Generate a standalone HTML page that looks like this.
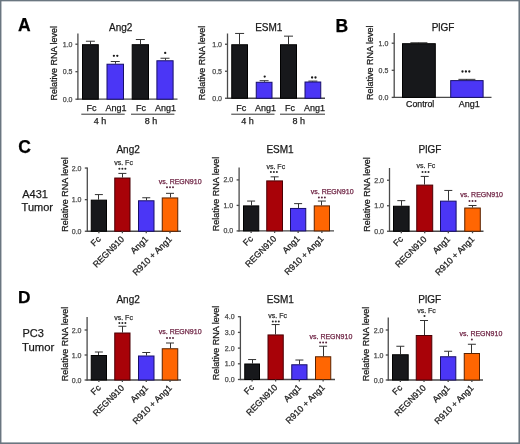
<!DOCTYPE html>
<html><head><meta charset="utf-8"><style>
html,body{margin:0;padding:0;background:#fff;}
#fig{position:relative;width:520px;height:444px;overflow:hidden;background:#fff;}
svg{position:absolute;left:0;top:0;filter:blur(0.35px);}
.bd{position:absolute;background:#6a7680;}
text{font-family:"Liberation Sans", sans-serif;stroke:currentColor;stroke-width:0.25px;}
</style></head><body>
<div id="fig">
<svg width="520" height="444" viewBox="0 0 520 444">
<rect x="0" y="0" width="520" height="444" fill="#fff"/>
<line x1="77.90" y1="33.50" x2="77.90" y2="99.70" stroke="#4a4a4a" stroke-width="1.3"/>
<line x1="77.40" y1="99.20" x2="177.50" y2="99.20" stroke="#4a4a4a" stroke-width="1.3"/>
<line x1="75.40" y1="99.20" x2="77.90" y2="99.20" stroke="#4a4a4a" stroke-width="1.3"/>
<text x="72.50" y="101.70" font-size="7" text-anchor="end" fill="#4a4a4a" color="#4a4a4a" font-weight="normal" >0.0</text>
<line x1="75.40" y1="71.70" x2="77.90" y2="71.70" stroke="#4a4a4a" stroke-width="1.3"/>
<text x="72.50" y="74.20" font-size="7" text-anchor="end" fill="#4a4a4a" color="#4a4a4a" font-weight="normal" >0.5</text>
<line x1="75.40" y1="44.20" x2="77.90" y2="44.20" stroke="#4a4a4a" stroke-width="1.3"/>
<text x="72.50" y="46.70" font-size="7" text-anchor="end" fill="#4a4a4a" color="#4a4a4a" font-weight="normal" >1.0</text>
<text x="0" y="0" font-size="9" text-anchor="middle" fill="#1a1a1a" color="#1a1a1a" transform="translate(57.40,63.30) rotate(-90)">Relative RNA level</text>
<text x="120.75" y="30.80" font-size="10" text-anchor="middle" fill="#1a1a1a" color="#1a1a1a" font-weight="normal" >Ang2</text>
<line x1="90.50" y1="44.20" x2="90.50" y2="41.23" stroke="#333" stroke-width="1.0"/>
<line x1="85.90" y1="41.23" x2="94.90" y2="41.23" stroke="#333" stroke-width="1.0"/>
<rect x="82.50" y="44.70" width="15.80" height="54.50" fill="#17181b" stroke="#000000" stroke-width="1"/>
<line x1="115.50" y1="63.73" x2="115.50" y2="61.52" stroke="#333" stroke-width="1.0"/>
<line x1="110.75" y1="61.52" x2="119.75" y2="61.52" stroke="#333" stroke-width="1.0"/>
<rect x="107.00" y="64.22" width="16.50" height="34.98" fill="#4b36f6" stroke="#180f6a" stroke-width="1"/>
<line x1="140.50" y1="44.20" x2="140.50" y2="39.53" stroke="#333" stroke-width="1.0"/>
<line x1="135.85" y1="39.53" x2="144.85" y2="39.53" stroke="#333" stroke-width="1.0"/>
<rect x="132.20" y="44.70" width="16.30" height="54.50" fill="#17181b" stroke="#000000" stroke-width="1"/>
<line x1="165.50" y1="60.26" x2="165.50" y2="58.23" stroke="#333" stroke-width="1.0"/>
<line x1="160.50" y1="58.23" x2="169.50" y2="58.23" stroke="#333" stroke-width="1.0"/>
<rect x="156.90" y="60.76" width="16.20" height="38.44" fill="#4b36f6" stroke="#180f6a" stroke-width="1"/>
<circle cx="113.90" cy="55.80" r="1.15" fill="#1a1a1a"/>
<circle cx="117.30" cy="55.80" r="1.15" fill="#1a1a1a"/>
<circle cx="165.20" cy="52.90" r="1.15" fill="#1a1a1a"/>
<line x1="227.50" y1="33.50" x2="227.50" y2="98.75" stroke="#4a4a4a" stroke-width="1.3"/>
<line x1="227.00" y1="98.25" x2="325.00" y2="98.25" stroke="#4a4a4a" stroke-width="1.3"/>
<line x1="225.00" y1="98.25" x2="227.50" y2="98.25" stroke="#4a4a4a" stroke-width="1.3"/>
<text x="222.00" y="100.75" font-size="7" text-anchor="end" fill="#4a4a4a" color="#4a4a4a" font-weight="normal" >0.0</text>
<line x1="225.00" y1="71.25" x2="227.50" y2="71.25" stroke="#4a4a4a" stroke-width="1.3"/>
<text x="222.00" y="73.75" font-size="7" text-anchor="end" fill="#4a4a4a" color="#4a4a4a" font-weight="normal" >0.5</text>
<line x1="225.00" y1="44.25" x2="227.50" y2="44.25" stroke="#4a4a4a" stroke-width="1.3"/>
<text x="222.00" y="46.75" font-size="7" text-anchor="end" fill="#4a4a4a" color="#4a4a4a" font-weight="normal" >1.0</text>
<text x="0" y="0" font-size="9" text-anchor="middle" fill="#1a1a1a" color="#1a1a1a" transform="translate(205.30,63.00) rotate(-90)">Relative RNA level</text>
<text x="268.75" y="31.25" font-size="10" text-anchor="middle" fill="#1a1a1a" color="#1a1a1a" font-weight="normal" >ESM1</text>
<line x1="239.50" y1="44.25" x2="239.50" y2="33.45" stroke="#333" stroke-width="1.0"/>
<line x1="235.12" y1="33.45" x2="244.12" y2="33.45" stroke="#333" stroke-width="1.0"/>
<rect x="231.75" y="44.75" width="15.75" height="53.50" fill="#17181b" stroke="#000000" stroke-width="1"/>
<line x1="264.50" y1="81.78" x2="264.50" y2="80.70" stroke="#333" stroke-width="1.0"/>
<line x1="259.62" y1="80.70" x2="268.62" y2="80.70" stroke="#333" stroke-width="1.0"/>
<rect x="256.25" y="82.28" width="15.75" height="15.97" fill="#4b36f6" stroke="#180f6a" stroke-width="1"/>
<line x1="288.50" y1="44.25" x2="288.50" y2="36.15" stroke="#333" stroke-width="1.0"/>
<line x1="284.00" y1="36.15" x2="293.00" y2="36.15" stroke="#333" stroke-width="1.0"/>
<rect x="280.50" y="44.75" width="16.00" height="53.50" fill="#17181b" stroke="#000000" stroke-width="1"/>
<line x1="312.50" y1="81.51" x2="312.50" y2="81.08" stroke="#333" stroke-width="1.0"/>
<line x1="308.38" y1="81.08" x2="317.38" y2="81.08" stroke="#333" stroke-width="1.0"/>
<rect x="305.00" y="82.01" width="15.75" height="16.24" fill="#4b36f6" stroke="#180f6a" stroke-width="1"/>
<circle cx="264.70" cy="76.60" r="1.15" fill="#1a1a1a"/>
<circle cx="312.10" cy="77.50" r="1.15" fill="#1a1a1a"/>
<circle cx="315.50" cy="77.50" r="1.15" fill="#1a1a1a"/>
<text x="91.40" y="110.90" font-size="9" text-anchor="middle" fill="#1a1a1a" color="#1a1a1a" font-weight="normal" >Fc</text>
<text x="116.00" y="110.90" font-size="9" text-anchor="middle" fill="#1a1a1a" color="#1a1a1a" font-weight="normal" >Ang1</text>
<text x="141.00" y="110.90" font-size="9" text-anchor="middle" fill="#1a1a1a" color="#1a1a1a" font-weight="normal" >Fc</text>
<text x="165.60" y="110.90" font-size="9" text-anchor="middle" fill="#1a1a1a" color="#1a1a1a" font-weight="normal" >Ang1</text>
<text x="241.25" y="110.90" font-size="9" text-anchor="middle" fill="#1a1a1a" color="#1a1a1a" font-weight="normal" >Fc</text>
<text x="265.50" y="110.90" font-size="9" text-anchor="middle" fill="#1a1a1a" color="#1a1a1a" font-weight="normal" >Ang1</text>
<text x="290.00" y="110.90" font-size="9" text-anchor="middle" fill="#1a1a1a" color="#1a1a1a" font-weight="normal" >Fc</text>
<text x="314.50" y="110.90" font-size="9" text-anchor="middle" fill="#1a1a1a" color="#1a1a1a" font-weight="normal" >Ang1</text>
<line x1="81.30" y1="114.20" x2="124.70" y2="114.20" stroke="#333" stroke-width="1.0"/>
<line x1="131.00" y1="114.20" x2="174.40" y2="114.20" stroke="#333" stroke-width="1.0"/>
<line x1="231.25" y1="114.20" x2="274.50" y2="114.20" stroke="#333" stroke-width="1.0"/>
<line x1="280.00" y1="114.20" x2="325.00" y2="114.20" stroke="#333" stroke-width="1.0"/>
<text x="100.00" y="123.60" font-size="9" text-anchor="middle" fill="#1a1a1a" color="#1a1a1a" font-weight="normal" >4 h</text>
<text x="151.00" y="123.60" font-size="9" text-anchor="middle" fill="#1a1a1a" color="#1a1a1a" font-weight="normal" >8 h</text>
<text x="247.50" y="123.60" font-size="9" text-anchor="middle" fill="#1a1a1a" color="#1a1a1a" font-weight="normal" >4 h</text>
<text x="298.75" y="123.60" font-size="9" text-anchor="middle" fill="#1a1a1a" color="#1a1a1a" font-weight="normal" >8 h</text>
<line x1="394.20" y1="33.00" x2="394.20" y2="97.90" stroke="#4a4a4a" stroke-width="1.3"/>
<line x1="393.70" y1="97.40" x2="491.50" y2="97.40" stroke="#4a4a4a" stroke-width="1.3"/>
<line x1="391.70" y1="97.40" x2="394.20" y2="97.40" stroke="#4a4a4a" stroke-width="1.3"/>
<text x="388.30" y="99.90" font-size="7" text-anchor="end" fill="#4a4a4a" color="#4a4a4a" font-weight="normal" >0.0</text>
<line x1="391.70" y1="70.30" x2="394.20" y2="70.30" stroke="#4a4a4a" stroke-width="1.3"/>
<text x="388.30" y="72.80" font-size="7" text-anchor="end" fill="#4a4a4a" color="#4a4a4a" font-weight="normal" >0.5</text>
<line x1="391.70" y1="43.20" x2="394.20" y2="43.20" stroke="#4a4a4a" stroke-width="1.3"/>
<text x="388.30" y="45.70" font-size="7" text-anchor="end" fill="#4a4a4a" color="#4a4a4a" font-weight="normal" >1.0</text>
<text x="0" y="0" font-size="9" text-anchor="middle" fill="#1a1a1a" color="#1a1a1a" transform="translate(373.00,62.80) rotate(-90)">Relative RNA level</text>
<text x="443.10" y="30.50" font-size="10" text-anchor="middle" fill="#1a1a1a" color="#1a1a1a" font-weight="normal" >PlGF</text>
<line x1="418.50" y1="43.20" x2="418.50" y2="42.77" stroke="#333" stroke-width="1.0"/>
<line x1="410.40" y1="42.77" x2="427.40" y2="42.77" stroke="#333" stroke-width="1.0"/>
<rect x="402.50" y="43.70" width="32.80" height="53.70" fill="#17181b" stroke="#000000" stroke-width="1"/>
<line x1="466.50" y1="80.11" x2="466.50" y2="79.35" stroke="#333" stroke-width="1.0"/>
<line x1="458.40" y1="79.35" x2="475.40" y2="79.35" stroke="#333" stroke-width="1.0"/>
<rect x="450.70" y="80.61" width="32.40" height="16.79" fill="#4b36f6" stroke="#180f6a" stroke-width="1"/>
<circle cx="462.50" cy="71.50" r="1.15" fill="#1a1a1a"/>
<circle cx="465.90" cy="71.50" r="1.15" fill="#1a1a1a"/>
<circle cx="469.30" cy="71.50" r="1.15" fill="#1a1a1a"/>
<text x="420.20" y="107.40" font-size="8.75" text-anchor="middle" fill="#1a1a1a" color="#1a1a1a" font-weight="normal" >Control</text>
<text x="469.20" y="107.30" font-size="9" text-anchor="middle" fill="#1a1a1a" color="#1a1a1a" font-weight="normal" >Ang1</text>
<text x="18.00" y="31.10" font-size="17.5" text-anchor="start" fill="#000" color="#000" font-weight="bold" >A</text>
<text x="335.50" y="31.80" font-size="17.5" text-anchor="start" fill="#000" color="#000" font-weight="bold" >B</text>
<text x="18.20" y="152.90" font-size="17.5" text-anchor="start" fill="#000" color="#000" font-weight="bold" >C</text>
<text x="18.10" y="302.50" font-size="17.3" text-anchor="start" fill="#000" color="#000" font-weight="bold" >D</text>
<text x="22.20" y="197.80" font-size="11" text-anchor="start" fill="#1a1a1a" color="#1a1a1a" font-weight="normal" >A431</text>
<text x="21.60" y="210.60" font-size="11" text-anchor="start" fill="#1a1a1a" color="#1a1a1a" font-weight="normal" >Tumor</text>
<text x="22.40" y="337.00" font-size="11" text-anchor="start" fill="#1a1a1a" color="#1a1a1a" font-weight="normal" >PC3</text>
<text x="22.00" y="350.60" font-size="11.3" text-anchor="start" fill="#1a1a1a" color="#1a1a1a" font-weight="normal" >Tumor</text>
<line x1="87.30" y1="167.50" x2="87.30" y2="231.75" stroke="#4a4a4a" stroke-width="1.3"/>
<line x1="86.80" y1="231.25" x2="181.00" y2="231.25" stroke="#4a4a4a" stroke-width="1.3"/>
<line x1="84.80" y1="231.25" x2="87.30" y2="231.25" stroke="#4a4a4a" stroke-width="1.3"/>
<text x="81.50" y="233.75" font-size="7" text-anchor="end" fill="#4a4a4a" color="#4a4a4a" font-weight="normal" >0.0</text>
<line x1="84.80" y1="199.65" x2="87.30" y2="199.65" stroke="#4a4a4a" stroke-width="1.3"/>
<text x="81.50" y="202.15" font-size="7" text-anchor="end" fill="#4a4a4a" color="#4a4a4a" font-weight="normal" >1.0</text>
<line x1="84.80" y1="168.05" x2="87.30" y2="168.05" stroke="#4a4a4a" stroke-width="1.3"/>
<text x="81.50" y="170.55" font-size="7" text-anchor="end" fill="#4a4a4a" color="#4a4a4a" font-weight="normal" >2.0</text>
<text x="0" y="0" font-size="9" text-anchor="middle" fill="#1a1a1a" color="#1a1a1a" transform="translate(68.00,194.60) rotate(-90)">Relative RNA level</text>
<text x="128.10" y="153.00" font-size="10" text-anchor="middle" fill="#1a1a1a" color="#1a1a1a" font-weight="normal" >Ang2</text>
<line x1="98.50" y1="199.65" x2="98.50" y2="194.59" stroke="#333" stroke-width="1.0"/>
<line x1="94.88" y1="194.59" x2="102.88" y2="194.59" stroke="#333" stroke-width="1.0"/>
<rect x="91.25" y="200.15" width="15.25" height="31.10" fill="#17181b" stroke="#000000" stroke-width="1"/>
<line x1="98.88" y1="231.25" x2="98.88" y2="233.25" stroke="#4a4a4a" stroke-width="1.3"/>
<line x1="122.50" y1="177.53" x2="122.50" y2="173.42" stroke="#333" stroke-width="1.0"/>
<line x1="118.38" y1="173.42" x2="126.38" y2="173.42" stroke="#333" stroke-width="1.0"/>
<rect x="114.75" y="178.03" width="15.25" height="53.22" fill="#a80208" stroke="#4a0004" stroke-width="1"/>
<line x1="122.38" y1="231.25" x2="122.38" y2="233.25" stroke="#4a4a4a" stroke-width="1.3"/>
<line x1="146.50" y1="200.28" x2="146.50" y2="197.75" stroke="#333" stroke-width="1.0"/>
<line x1="142.25" y1="197.75" x2="150.25" y2="197.75" stroke="#333" stroke-width="1.0"/>
<rect x="138.50" y="200.78" width="15.50" height="30.47" fill="#4b36f6" stroke="#180f6a" stroke-width="1"/>
<line x1="146.25" y1="231.25" x2="146.25" y2="233.25" stroke="#4a4a4a" stroke-width="1.3"/>
<line x1="170.50" y1="197.44" x2="170.50" y2="193.33" stroke="#333" stroke-width="1.0"/>
<line x1="166.00" y1="193.33" x2="174.00" y2="193.33" stroke="#333" stroke-width="1.0"/>
<rect x="162.25" y="197.94" width="15.50" height="33.31" fill="#ff6602" stroke="#5a2200" stroke-width="1"/>
<line x1="170.00" y1="231.25" x2="170.00" y2="233.25" stroke="#4a4a4a" stroke-width="1.3"/>
<text x="0" y="0" font-size="8.8" text-anchor="end" fill="#1a1a1a" color="#1a1a1a" dy="3.1" transform="translate(99.08,237.55) rotate(-45)">Fc</text>
<text x="0" y="0" font-size="8.8" text-anchor="end" fill="#1a1a1a" color="#1a1a1a" dy="3.1" transform="translate(122.58,237.55) rotate(-45)">REGN910</text>
<text x="0" y="0" font-size="8.8" text-anchor="end" fill="#1a1a1a" color="#1a1a1a" dy="3.1" transform="translate(146.45,237.55) rotate(-45)">Ang1</text>
<text x="0" y="0" font-size="8.8" text-anchor="end" fill="#1a1a1a" color="#1a1a1a" dy="3.1" transform="translate(170.20,237.55) rotate(-45)">R910 + Ang1</text>
<text x="123.58" y="164.80" font-size="7" text-anchor="middle" fill="#333" color="#333" font-weight="normal" >vs. Fc</text>
<circle cx="119.38" cy="168.80" r="1.0" fill="#2a2a2a"/>
<circle cx="122.38" cy="168.80" r="1.0" fill="#2a2a2a"/>
<circle cx="125.38" cy="168.80" r="1.0" fill="#2a2a2a"/>
<text x="158.75" y="183.50" font-size="7" text-anchor="start" fill="#702646" color="#702646" font-weight="normal" >vs. REGN910</text>
<circle cx="167.00" cy="187.30" r="1.0" fill="#5a2a40"/>
<circle cx="170.00" cy="187.30" r="1.0" fill="#5a2a40"/>
<circle cx="173.00" cy="187.30" r="1.0" fill="#5a2a40"/>
<line x1="239.10" y1="167.50" x2="239.10" y2="231.40" stroke="#4a4a4a" stroke-width="1.3"/>
<line x1="238.60" y1="230.90" x2="334.00" y2="230.90" stroke="#4a4a4a" stroke-width="1.3"/>
<line x1="236.60" y1="230.90" x2="239.10" y2="230.90" stroke="#4a4a4a" stroke-width="1.3"/>
<text x="233.20" y="233.40" font-size="7" text-anchor="end" fill="#4a4a4a" color="#4a4a4a" font-weight="normal" >0.0</text>
<line x1="236.60" y1="205.40" x2="239.10" y2="205.40" stroke="#4a4a4a" stroke-width="1.3"/>
<text x="233.20" y="207.90" font-size="7" text-anchor="end" fill="#4a4a4a" color="#4a4a4a" font-weight="normal" >1.0</text>
<line x1="236.60" y1="179.90" x2="239.10" y2="179.90" stroke="#4a4a4a" stroke-width="1.3"/>
<text x="233.20" y="182.40" font-size="7" text-anchor="end" fill="#4a4a4a" color="#4a4a4a" font-weight="normal" >2.0</text>
<text x="0" y="0" font-size="9" text-anchor="middle" fill="#1a1a1a" color="#1a1a1a" transform="translate(219.30,194.00) rotate(-90)">Relative RNA level</text>
<text x="280.00" y="153.00" font-size="10" text-anchor="middle" fill="#1a1a1a" color="#1a1a1a" font-weight="normal" >ESM1</text>
<line x1="251.50" y1="205.40" x2="251.50" y2="201.06" stroke="#333" stroke-width="1.0"/>
<line x1="247.12" y1="201.06" x2="255.12" y2="201.06" stroke="#333" stroke-width="1.0"/>
<rect x="243.50" y="205.90" width="15.25" height="25.00" fill="#17181b" stroke="#000000" stroke-width="1"/>
<line x1="251.12" y1="230.90" x2="251.12" y2="232.90" stroke="#4a4a4a" stroke-width="1.3"/>
<line x1="274.50" y1="180.41" x2="274.50" y2="176.84" stroke="#333" stroke-width="1.0"/>
<line x1="270.62" y1="176.84" x2="278.62" y2="176.84" stroke="#333" stroke-width="1.0"/>
<rect x="266.75" y="180.91" width="15.75" height="49.99" fill="#a80208" stroke="#4a0004" stroke-width="1"/>
<line x1="274.62" y1="230.90" x2="274.62" y2="232.90" stroke="#4a4a4a" stroke-width="1.3"/>
<line x1="298.50" y1="207.95" x2="298.50" y2="203.62" stroke="#333" stroke-width="1.0"/>
<line x1="294.12" y1="203.62" x2="302.12" y2="203.62" stroke="#333" stroke-width="1.0"/>
<rect x="290.50" y="208.45" width="15.25" height="22.45" fill="#4b36f6" stroke="#180f6a" stroke-width="1"/>
<line x1="298.12" y1="230.90" x2="298.12" y2="232.90" stroke="#4a4a4a" stroke-width="1.3"/>
<line x1="321.50" y1="205.40" x2="321.50" y2="201.06" stroke="#333" stroke-width="1.0"/>
<line x1="317.88" y1="201.06" x2="325.88" y2="201.06" stroke="#333" stroke-width="1.0"/>
<rect x="314.25" y="205.90" width="15.25" height="25.00" fill="#ff6602" stroke="#5a2200" stroke-width="1"/>
<line x1="321.88" y1="230.90" x2="321.88" y2="232.90" stroke="#4a4a4a" stroke-width="1.3"/>
<text x="0" y="0" font-size="8.8" text-anchor="end" fill="#1a1a1a" color="#1a1a1a" dy="3.1" transform="translate(251.32,237.20) rotate(-45)">Fc</text>
<text x="0" y="0" font-size="8.8" text-anchor="end" fill="#1a1a1a" color="#1a1a1a" dy="3.1" transform="translate(274.82,237.20) rotate(-45)">REGN910</text>
<text x="0" y="0" font-size="8.8" text-anchor="end" fill="#1a1a1a" color="#1a1a1a" dy="3.1" transform="translate(298.32,237.20) rotate(-45)">Ang1</text>
<text x="0" y="0" font-size="8.8" text-anchor="end" fill="#1a1a1a" color="#1a1a1a" dy="3.1" transform="translate(322.07,237.20) rotate(-45)">R910 + Ang1</text>
<text x="275.82" y="168.50" font-size="7" text-anchor="middle" fill="#333" color="#333" font-weight="normal" >vs. Fc</text>
<circle cx="270.90" cy="172.00" r="1.0" fill="#2a2a2a"/>
<circle cx="273.90" cy="172.00" r="1.0" fill="#2a2a2a"/>
<circle cx="276.90" cy="172.00" r="1.0" fill="#2a2a2a"/>
<text x="310.75" y="193.50" font-size="7" text-anchor="start" fill="#702646" color="#702646" font-weight="normal" >vs. REGN910</text>
<circle cx="318.88" cy="197.40" r="1.0" fill="#5a2a40"/>
<circle cx="321.88" cy="197.40" r="1.0" fill="#5a2a40"/>
<circle cx="324.88" cy="197.40" r="1.0" fill="#5a2a40"/>
<line x1="389.50" y1="168.00" x2="389.50" y2="231.75" stroke="#4a4a4a" stroke-width="1.3"/>
<line x1="389.00" y1="231.25" x2="483.50" y2="231.25" stroke="#4a4a4a" stroke-width="1.3"/>
<line x1="387.00" y1="231.25" x2="389.50" y2="231.25" stroke="#4a4a4a" stroke-width="1.3"/>
<text x="384.00" y="233.75" font-size="7" text-anchor="end" fill="#4a4a4a" color="#4a4a4a" font-weight="normal" >0.0</text>
<line x1="387.00" y1="205.75" x2="389.50" y2="205.75" stroke="#4a4a4a" stroke-width="1.3"/>
<text x="384.00" y="208.25" font-size="7" text-anchor="end" fill="#4a4a4a" color="#4a4a4a" font-weight="normal" >1.0</text>
<line x1="387.00" y1="180.25" x2="389.50" y2="180.25" stroke="#4a4a4a" stroke-width="1.3"/>
<text x="384.00" y="182.75" font-size="7" text-anchor="end" fill="#4a4a4a" color="#4a4a4a" font-weight="normal" >2.0</text>
<text x="0" y="0" font-size="9" text-anchor="middle" fill="#1a1a1a" color="#1a1a1a" transform="translate(369.70,194.50) rotate(-90)">Relative RNA level</text>
<text x="430.00" y="153.00" font-size="10" text-anchor="middle" fill="#1a1a1a" color="#1a1a1a" font-weight="normal" >PlGF</text>
<line x1="401.50" y1="205.75" x2="401.50" y2="200.65" stroke="#333" stroke-width="1.0"/>
<line x1="397.30" y1="200.65" x2="405.30" y2="200.65" stroke="#333" stroke-width="1.0"/>
<rect x="393.50" y="206.25" width="15.60" height="25.00" fill="#17181b" stroke="#000000" stroke-width="1"/>
<line x1="401.30" y1="231.25" x2="401.30" y2="233.25" stroke="#4a4a4a" stroke-width="1.3"/>
<line x1="424.50" y1="184.59" x2="424.50" y2="176.43" stroke="#333" stroke-width="1.0"/>
<line x1="420.73" y1="176.43" x2="428.73" y2="176.43" stroke="#333" stroke-width="1.0"/>
<rect x="416.75" y="185.09" width="15.95" height="46.16" fill="#a80208" stroke="#4a0004" stroke-width="1"/>
<line x1="424.73" y1="231.25" x2="424.73" y2="233.25" stroke="#4a4a4a" stroke-width="1.3"/>
<line x1="448.50" y1="200.65" x2="448.50" y2="190.45" stroke="#333" stroke-width="1.0"/>
<line x1="444.30" y1="190.45" x2="452.30" y2="190.45" stroke="#333" stroke-width="1.0"/>
<rect x="440.50" y="201.15" width="15.60" height="30.10" fill="#4b36f6" stroke="#180f6a" stroke-width="1"/>
<line x1="448.30" y1="231.25" x2="448.30" y2="233.25" stroke="#4a4a4a" stroke-width="1.3"/>
<line x1="472.50" y1="207.53" x2="472.50" y2="205.50" stroke="#333" stroke-width="1.0"/>
<line x1="468.52" y1="205.50" x2="476.52" y2="205.50" stroke="#333" stroke-width="1.0"/>
<rect x="464.75" y="208.03" width="15.55" height="23.22" fill="#ff6602" stroke="#5a2200" stroke-width="1"/>
<line x1="472.52" y1="231.25" x2="472.52" y2="233.25" stroke="#4a4a4a" stroke-width="1.3"/>
<text x="0" y="0" font-size="8.8" text-anchor="end" fill="#1a1a1a" color="#1a1a1a" dy="3.1" transform="translate(401.50,237.55) rotate(-45)">Fc</text>
<text x="0" y="0" font-size="8.8" text-anchor="end" fill="#1a1a1a" color="#1a1a1a" dy="3.1" transform="translate(424.93,237.55) rotate(-45)">REGN910</text>
<text x="0" y="0" font-size="8.8" text-anchor="end" fill="#1a1a1a" color="#1a1a1a" dy="3.1" transform="translate(448.50,237.55) rotate(-45)">Ang1</text>
<text x="0" y="0" font-size="8.8" text-anchor="end" fill="#1a1a1a" color="#1a1a1a" dy="3.1" transform="translate(472.72,237.55) rotate(-45)">R910 + Ang1</text>
<text x="425.93" y="167.80" font-size="7" text-anchor="middle" fill="#333" color="#333" font-weight="normal" >vs. Fc</text>
<circle cx="422.50" cy="172.00" r="1.0" fill="#2a2a2a"/>
<circle cx="425.50" cy="172.00" r="1.0" fill="#2a2a2a"/>
<circle cx="428.50" cy="172.00" r="1.0" fill="#2a2a2a"/>
<text x="460.20" y="196.80" font-size="7" text-anchor="start" fill="#702646" color="#702646" font-weight="normal" >vs. REGN910</text>
<circle cx="469.52" cy="201.00" r="1.0" fill="#5a2a40"/>
<circle cx="472.52" cy="201.00" r="1.0" fill="#5a2a40"/>
<circle cx="475.52" cy="201.00" r="1.0" fill="#5a2a40"/>
<line x1="87.10" y1="317.00" x2="87.10" y2="380.50" stroke="#4a4a4a" stroke-width="1.3"/>
<line x1="86.60" y1="380.00" x2="181.00" y2="380.00" stroke="#4a4a4a" stroke-width="1.3"/>
<line x1="84.60" y1="380.00" x2="87.10" y2="380.00" stroke="#4a4a4a" stroke-width="1.3"/>
<text x="81.50" y="382.50" font-size="7" text-anchor="end" fill="#4a4a4a" color="#4a4a4a" font-weight="normal" >0.0</text>
<line x1="84.60" y1="355.00" x2="87.10" y2="355.00" stroke="#4a4a4a" stroke-width="1.3"/>
<text x="81.50" y="357.50" font-size="7" text-anchor="end" fill="#4a4a4a" color="#4a4a4a" font-weight="normal" >1.0</text>
<line x1="84.60" y1="330.00" x2="87.10" y2="330.00" stroke="#4a4a4a" stroke-width="1.3"/>
<text x="81.50" y="332.50" font-size="7" text-anchor="end" fill="#4a4a4a" color="#4a4a4a" font-weight="normal" >2.0</text>
<text x="0" y="0" font-size="9" text-anchor="middle" fill="#1a1a1a" color="#1a1a1a" transform="translate(68.30,344.00) rotate(-90)">Relative RNA level</text>
<text x="128.10" y="302.60" font-size="10" text-anchor="middle" fill="#1a1a1a" color="#1a1a1a" font-weight="normal" >Ang2</text>
<line x1="98.50" y1="355.00" x2="98.50" y2="352.00" stroke="#333" stroke-width="1.0"/>
<line x1="94.88" y1="352.00" x2="102.88" y2="352.00" stroke="#333" stroke-width="1.0"/>
<rect x="91.25" y="355.50" width="15.25" height="24.50" fill="#17181b" stroke="#000000" stroke-width="1"/>
<line x1="98.88" y1="380.00" x2="98.88" y2="382.00" stroke="#4a4a4a" stroke-width="1.3"/>
<line x1="122.50" y1="332.50" x2="122.50" y2="326.25" stroke="#333" stroke-width="1.0"/>
<line x1="118.38" y1="326.25" x2="126.38" y2="326.25" stroke="#333" stroke-width="1.0"/>
<rect x="114.75" y="333.00" width="15.25" height="47.00" fill="#a80208" stroke="#4a0004" stroke-width="1"/>
<line x1="122.38" y1="380.00" x2="122.38" y2="382.00" stroke="#4a4a4a" stroke-width="1.3"/>
<line x1="146.50" y1="355.50" x2="146.50" y2="352.50" stroke="#333" stroke-width="1.0"/>
<line x1="142.25" y1="352.50" x2="150.25" y2="352.50" stroke="#333" stroke-width="1.0"/>
<rect x="138.50" y="356.00" width="15.50" height="24.00" fill="#4b36f6" stroke="#180f6a" stroke-width="1"/>
<line x1="146.25" y1="380.00" x2="146.25" y2="382.00" stroke="#4a4a4a" stroke-width="1.3"/>
<line x1="170.50" y1="348.25" x2="170.50" y2="343.00" stroke="#333" stroke-width="1.0"/>
<line x1="166.00" y1="343.00" x2="174.00" y2="343.00" stroke="#333" stroke-width="1.0"/>
<rect x="162.25" y="348.75" width="15.50" height="31.25" fill="#ff6602" stroke="#5a2200" stroke-width="1"/>
<line x1="170.00" y1="380.00" x2="170.00" y2="382.00" stroke="#4a4a4a" stroke-width="1.3"/>
<text x="0" y="0" font-size="8.8" text-anchor="end" fill="#1a1a1a" color="#1a1a1a" dy="3.1" transform="translate(99.08,386.30) rotate(-45)">Fc</text>
<text x="0" y="0" font-size="8.8" text-anchor="end" fill="#1a1a1a" color="#1a1a1a" dy="3.1" transform="translate(122.58,386.30) rotate(-45)">REGN910</text>
<text x="0" y="0" font-size="8.8" text-anchor="end" fill="#1a1a1a" color="#1a1a1a" dy="3.1" transform="translate(146.45,386.30) rotate(-45)">Ang1</text>
<text x="0" y="0" font-size="8.8" text-anchor="end" fill="#1a1a1a" color="#1a1a1a" dy="3.1" transform="translate(170.20,386.30) rotate(-45)">R910 + Ang1</text>
<text x="123.58" y="319.80" font-size="7" text-anchor="middle" fill="#333" color="#333" font-weight="normal" >vs. Fc</text>
<circle cx="119.38" cy="322.90" r="1.0" fill="#2a2a2a"/>
<circle cx="122.38" cy="322.90" r="1.0" fill="#2a2a2a"/>
<circle cx="125.38" cy="322.90" r="1.0" fill="#2a2a2a"/>
<text x="158.75" y="333.50" font-size="7" text-anchor="start" fill="#702646" color="#702646" font-weight="normal" >vs. REGN910</text>
<circle cx="167.00" cy="338.00" r="1.0" fill="#5a2a40"/>
<circle cx="170.00" cy="338.00" r="1.0" fill="#5a2a40"/>
<circle cx="173.00" cy="338.00" r="1.0" fill="#5a2a40"/>
<line x1="240.40" y1="316.25" x2="240.40" y2="380.00" stroke="#4a4a4a" stroke-width="1.3"/>
<line x1="239.90" y1="379.50" x2="335.00" y2="379.50" stroke="#4a4a4a" stroke-width="1.3"/>
<line x1="237.90" y1="379.50" x2="240.40" y2="379.50" stroke="#4a4a4a" stroke-width="1.3"/>
<text x="234.60" y="382.00" font-size="7" text-anchor="end" fill="#4a4a4a" color="#4a4a4a" font-weight="normal" >0.0</text>
<line x1="237.90" y1="363.80" x2="240.40" y2="363.80" stroke="#4a4a4a" stroke-width="1.3"/>
<text x="234.60" y="366.30" font-size="7" text-anchor="end" fill="#4a4a4a" color="#4a4a4a" font-weight="normal" >1.0</text>
<line x1="237.90" y1="348.10" x2="240.40" y2="348.10" stroke="#4a4a4a" stroke-width="1.3"/>
<text x="234.60" y="350.60" font-size="7" text-anchor="end" fill="#4a4a4a" color="#4a4a4a" font-weight="normal" >2.0</text>
<line x1="237.90" y1="332.40" x2="240.40" y2="332.40" stroke="#4a4a4a" stroke-width="1.3"/>
<text x="234.60" y="334.90" font-size="7" text-anchor="end" fill="#4a4a4a" color="#4a4a4a" font-weight="normal" >3.0</text>
<line x1="237.90" y1="316.70" x2="240.40" y2="316.70" stroke="#4a4a4a" stroke-width="1.3"/>
<text x="234.60" y="319.20" font-size="7" text-anchor="end" fill="#4a4a4a" color="#4a4a4a" font-weight="normal" >4.0</text>
<text x="0" y="0" font-size="9" text-anchor="middle" fill="#1a1a1a" color="#1a1a1a" transform="translate(218.80,343.00) rotate(-90)">Relative RNA level</text>
<text x="280.25" y="302.60" font-size="10" text-anchor="middle" fill="#1a1a1a" color="#1a1a1a" font-weight="normal" >ESM1</text>
<line x1="252.50" y1="363.49" x2="252.50" y2="359.56" stroke="#333" stroke-width="1.0"/>
<line x1="248.12" y1="359.56" x2="256.12" y2="359.56" stroke="#333" stroke-width="1.0"/>
<rect x="244.75" y="363.99" width="14.75" height="15.51" fill="#17181b" stroke="#000000" stroke-width="1"/>
<line x1="252.12" y1="379.50" x2="252.12" y2="381.50" stroke="#4a4a4a" stroke-width="1.3"/>
<line x1="275.50" y1="334.44" x2="275.50" y2="324.55" stroke="#333" stroke-width="1.0"/>
<line x1="271.62" y1="324.55" x2="279.62" y2="324.55" stroke="#333" stroke-width="1.0"/>
<rect x="268.00" y="334.94" width="15.25" height="44.56" fill="#a80208" stroke="#4a0004" stroke-width="1"/>
<line x1="275.62" y1="379.50" x2="275.62" y2="381.50" stroke="#4a4a4a" stroke-width="1.3"/>
<line x1="299.50" y1="364.27" x2="299.50" y2="360.03" stroke="#333" stroke-width="1.0"/>
<line x1="295.38" y1="360.03" x2="303.38" y2="360.03" stroke="#333" stroke-width="1.0"/>
<rect x="291.75" y="364.77" width="15.25" height="14.73" fill="#4b36f6" stroke="#180f6a" stroke-width="1"/>
<line x1="299.38" y1="379.50" x2="299.38" y2="381.50" stroke="#4a4a4a" stroke-width="1.3"/>
<line x1="323.50" y1="356.26" x2="323.50" y2="346.22" stroke="#333" stroke-width="1.0"/>
<line x1="319.12" y1="346.22" x2="327.12" y2="346.22" stroke="#333" stroke-width="1.0"/>
<rect x="315.50" y="356.76" width="15.25" height="22.74" fill="#ff6602" stroke="#5a2200" stroke-width="1"/>
<line x1="323.12" y1="379.50" x2="323.12" y2="381.50" stroke="#4a4a4a" stroke-width="1.3"/>
<text x="0" y="0" font-size="8.8" text-anchor="end" fill="#1a1a1a" color="#1a1a1a" dy="3.1" transform="translate(252.32,385.80) rotate(-45)">Fc</text>
<text x="0" y="0" font-size="8.8" text-anchor="end" fill="#1a1a1a" color="#1a1a1a" dy="3.1" transform="translate(275.82,385.80) rotate(-45)">REGN910</text>
<text x="0" y="0" font-size="8.8" text-anchor="end" fill="#1a1a1a" color="#1a1a1a" dy="3.1" transform="translate(299.57,385.80) rotate(-45)">Ang1</text>
<text x="0" y="0" font-size="8.8" text-anchor="end" fill="#1a1a1a" color="#1a1a1a" dy="3.1" transform="translate(323.32,385.80) rotate(-45)">R910 + Ang1</text>
<text x="277.62" y="318.30" font-size="7" text-anchor="middle" fill="#333" color="#333" font-weight="normal" >vs. Fc</text>
<circle cx="272.80" cy="321.40" r="1.0" fill="#2a2a2a"/>
<circle cx="275.80" cy="321.40" r="1.0" fill="#2a2a2a"/>
<circle cx="278.80" cy="321.40" r="1.0" fill="#2a2a2a"/>
<text x="309.50" y="338.50" font-size="7" text-anchor="start" fill="#702646" color="#702646" font-weight="normal" >vs. REGN910</text>
<circle cx="320.12" cy="342.50" r="1.0" fill="#5a2a40"/>
<circle cx="323.12" cy="342.50" r="1.0" fill="#5a2a40"/>
<circle cx="326.12" cy="342.50" r="1.0" fill="#5a2a40"/>
<line x1="388.25" y1="317.50" x2="388.25" y2="380.50" stroke="#4a4a4a" stroke-width="1.3"/>
<line x1="387.75" y1="380.00" x2="483.00" y2="380.00" stroke="#4a4a4a" stroke-width="1.3"/>
<line x1="385.75" y1="380.00" x2="388.25" y2="380.00" stroke="#4a4a4a" stroke-width="1.3"/>
<text x="383.50" y="382.50" font-size="7" text-anchor="end" fill="#4a4a4a" color="#4a4a4a" font-weight="normal" >0.0</text>
<line x1="385.75" y1="355.00" x2="388.25" y2="355.00" stroke="#4a4a4a" stroke-width="1.3"/>
<text x="383.50" y="357.50" font-size="7" text-anchor="end" fill="#4a4a4a" color="#4a4a4a" font-weight="normal" >1.0</text>
<line x1="385.75" y1="330.00" x2="388.25" y2="330.00" stroke="#4a4a4a" stroke-width="1.3"/>
<text x="383.50" y="332.50" font-size="7" text-anchor="end" fill="#4a4a4a" color="#4a4a4a" font-weight="normal" >2.0</text>
<text x="0" y="0" font-size="9" text-anchor="middle" fill="#1a1a1a" color="#1a1a1a" transform="translate(368.80,344.00) rotate(-90)">Relative RNA level</text>
<text x="429.75" y="302.60" font-size="10" text-anchor="middle" fill="#1a1a1a" color="#1a1a1a" font-weight="normal" >PlGF</text>
<line x1="400.50" y1="354.25" x2="400.50" y2="346.25" stroke="#333" stroke-width="1.0"/>
<line x1="396.35" y1="346.25" x2="404.35" y2="346.25" stroke="#333" stroke-width="1.0"/>
<rect x="392.50" y="354.75" width="15.70" height="25.25" fill="#17181b" stroke="#000000" stroke-width="1"/>
<line x1="400.35" y1="380.00" x2="400.35" y2="382.00" stroke="#4a4a4a" stroke-width="1.3"/>
<line x1="424.50" y1="335.00" x2="424.50" y2="320.50" stroke="#333" stroke-width="1.0"/>
<line x1="420.02" y1="320.50" x2="428.02" y2="320.50" stroke="#333" stroke-width="1.0"/>
<rect x="416.25" y="335.50" width="15.55" height="44.50" fill="#a80208" stroke="#4a0004" stroke-width="1"/>
<line x1="424.02" y1="380.00" x2="424.02" y2="382.00" stroke="#4a4a4a" stroke-width="1.3"/>
<line x1="448.50" y1="356.25" x2="448.50" y2="351.25" stroke="#333" stroke-width="1.0"/>
<line x1="444.15" y1="351.25" x2="452.15" y2="351.25" stroke="#333" stroke-width="1.0"/>
<rect x="440.50" y="356.75" width="15.30" height="23.25" fill="#4b36f6" stroke="#180f6a" stroke-width="1"/>
<line x1="448.15" y1="380.00" x2="448.15" y2="382.00" stroke="#4a4a4a" stroke-width="1.3"/>
<line x1="471.50" y1="353.00" x2="471.50" y2="344.25" stroke="#333" stroke-width="1.0"/>
<line x1="467.88" y1="344.25" x2="475.88" y2="344.25" stroke="#333" stroke-width="1.0"/>
<rect x="464.25" y="353.50" width="15.25" height="26.50" fill="#ff6602" stroke="#5a2200" stroke-width="1"/>
<line x1="471.88" y1="380.00" x2="471.88" y2="382.00" stroke="#4a4a4a" stroke-width="1.3"/>
<text x="0" y="0" font-size="8.8" text-anchor="end" fill="#1a1a1a" color="#1a1a1a" dy="3.1" transform="translate(400.55,386.30) rotate(-45)">Fc</text>
<text x="0" y="0" font-size="8.8" text-anchor="end" fill="#1a1a1a" color="#1a1a1a" dy="3.1" transform="translate(424.22,386.30) rotate(-45)">REGN910</text>
<text x="0" y="0" font-size="8.8" text-anchor="end" fill="#1a1a1a" color="#1a1a1a" dy="3.1" transform="translate(448.35,386.30) rotate(-45)">Ang1</text>
<text x="0" y="0" font-size="8.8" text-anchor="end" fill="#1a1a1a" color="#1a1a1a" dy="3.1" transform="translate(472.07,386.30) rotate(-45)">R910 + Ang1</text>
<text x="426.52" y="313.30" font-size="7" text-anchor="middle" fill="#333" color="#333" font-weight="normal" >vs. Fc</text>
<circle cx="424.50" cy="316.10" r="1.0" fill="#2a2a2a"/>
<text x="459.50" y="336.00" font-size="7" text-anchor="start" fill="#702646" color="#702646" font-weight="normal" >vs. REGN910</text>
<circle cx="471.88" cy="339.50" r="1.0" fill="#5a2a40"/>
</svg>
<div class="bd" style="left:0;top:0;width:520px;height:1px;"></div>
<div class="bd" style="left:0;top:1px;width:520px;height:1px;opacity:.35"></div>
<div class="bd" style="left:0;top:0;width:1px;height:444px;"></div>
<div class="bd" style="left:1px;top:0;width:1px;height:444px;opacity:.45"></div>
<div class="bd" style="left:519px;top:0;width:1px;height:444px;"></div>
<div class="bd" style="left:518px;top:0;width:1px;height:444px;opacity:.55"></div>
<div class="bd" style="left:0;top:443px;width:520px;height:1px;"></div>
<div class="bd" style="left:0;top:442px;width:520px;height:1px;opacity:.6"></div>
</div>
</body></html>
